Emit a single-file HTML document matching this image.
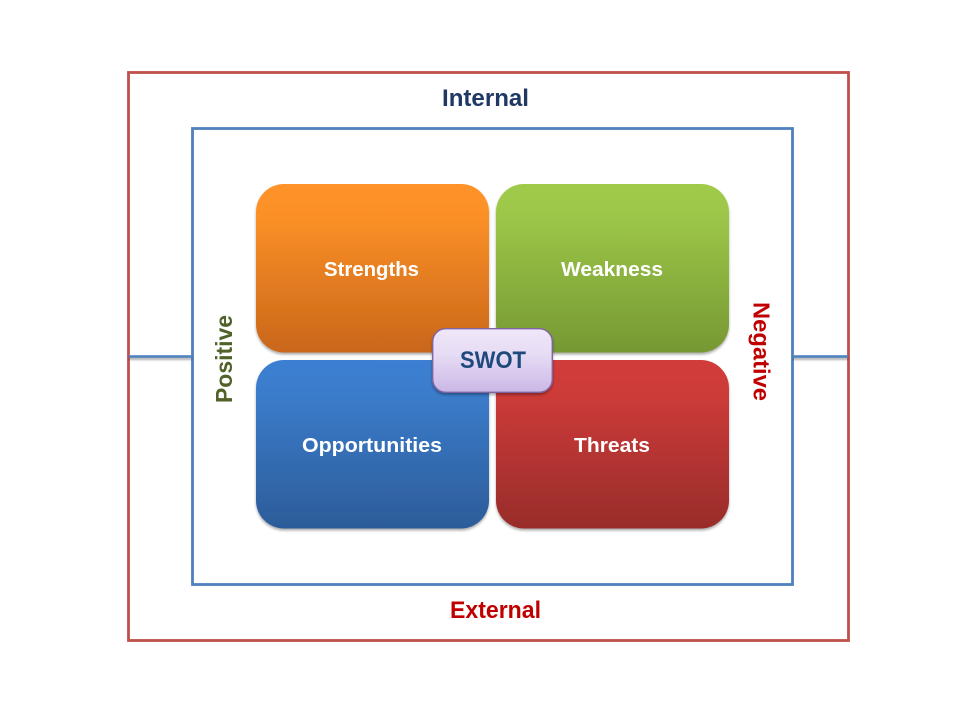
<!DOCTYPE html>
<html>
<head>
<meta charset="utf-8">
<style>
html,body{margin:0;padding:0;background:#fff;width:960px;height:720px;overflow:hidden}
svg{display:block}
text{font-family:"Liberation Sans",sans-serif;font-weight:bold}
</style>
</head>
<body>
<svg width="960" height="720" viewBox="0 0 960 720" xmlns="http://www.w3.org/2000/svg">
<defs>
<linearGradient id="o" x1="0" y1="0" x2="0" y2="1"><stop offset="0" stop-color="#ff9329"/><stop offset=".2" stop-color="#fb9028"/><stop offset="1" stop-color="#c9661a"/></linearGradient>
<linearGradient id="g" x1="0" y1="0" x2="0" y2="1"><stop offset="0" stop-color="#a0cb4a"/><stop offset=".2" stop-color="#9cc648"/><stop offset="1" stop-color="#769833"/></linearGradient>
<linearGradient id="b" x1="0" y1="0" x2="0" y2="1"><stop offset="0" stop-color="#3c7fd2"/><stop offset=".2" stop-color="#3b7ccb"/><stop offset="1" stop-color="#2c5c99"/></linearGradient>
<linearGradient id="r" x1="0" y1="0" x2="0" y2="1"><stop offset="0" stop-color="#d13c3a"/><stop offset=".2" stop-color="#cd3b39"/><stop offset="1" stop-color="#982c2a"/></linearGradient>
<linearGradient id="p" x1="0" y1="0" x2="0" y2="1"><stop offset="0" stop-color="#efe7f9"/><stop offset=".4" stop-color="#e6dcf4"/><stop offset="1" stop-color="#cbb7e6"/></linearGradient>
<filter id="s" x="-10%" y="-10%" width="120%" height="125%"><feDropShadow dx="0" dy="2" stdDeviation="1.3" flood-color="#000" flood-opacity=".33"/></filter>
<filter id="ls" x="-5%" y="-400%" width="110%" height="900%"><feDropShadow dx="0" dy="2" stdDeviation="1" flood-color="#000" flood-opacity=".35"/></filter>
</defs>

<rect x="128.5" y="72.5" width="720" height="568" fill="#fff" stroke="#c0504d" stroke-width="2.8"/>
<rect x="192.5" y="128.5" width="600" height="456" fill="#fff" stroke="#4f81bd" stroke-width="2.8"/>

<rect x="129" y="355.2" width="63" height="2.6" fill="#4f81bd" filter="url(#ls)"/>
<rect x="793" y="355.2" width="55" height="2.6" fill="#4f81bd" filter="url(#ls)"/>

<rect x="256" y="184" width="233" height="168.5" rx="28" fill="url(#o)" filter="url(#s)"/>
<rect x="496" y="184" width="233" height="168.5" rx="28" fill="url(#g)" filter="url(#s)"/>
<rect x="256" y="360" width="233" height="168.5" rx="28" fill="url(#b)" filter="url(#s)"/>
<rect x="496" y="360" width="233" height="168.5" rx="28" fill="url(#r)" filter="url(#s)"/>

<rect x="432.7" y="328.7" width="119.6" height="63.6" rx="13" fill="url(#p)" stroke="#8064a2" stroke-width="1.4" filter="url(#s)"/>

<text x="324" y="276" font-size="20" fill="#fff" textLength="95" lengthAdjust="spacingAndGlyphs">Strengths</text>
<text x="561" y="276" font-size="20" fill="#fff" textLength="102" lengthAdjust="spacingAndGlyphs">Weakness</text>
<text x="302" y="452" font-size="20" fill="#fff" textLength="140" lengthAdjust="spacingAndGlyphs">Opportunities</text>
<text x="574" y="452" font-size="20" fill="#fff" textLength="76" lengthAdjust="spacingAndGlyphs">Threats</text>
<text x="460" y="368" font-size="24" fill="#1f497d" textLength="66" lengthAdjust="spacingAndGlyphs">SWOT</text>
<text x="442" y="106" font-size="24" fill="#1f3864" textLength="87" lengthAdjust="spacingAndGlyphs">Internal</text>
<text x="450" y="618" font-size="24" fill="#c00000" textLength="91" lengthAdjust="spacingAndGlyphs">External</text>
<text transform="translate(232,403) rotate(-90)" font-size="23" fill="#4f6228" textLength="88" lengthAdjust="spacingAndGlyphs">Positive</text>
<text transform="translate(753.5,302) rotate(90)" font-size="23" fill="#c00000" textLength="99" lengthAdjust="spacingAndGlyphs">Negative</text>
</svg>
</body>
</html>
